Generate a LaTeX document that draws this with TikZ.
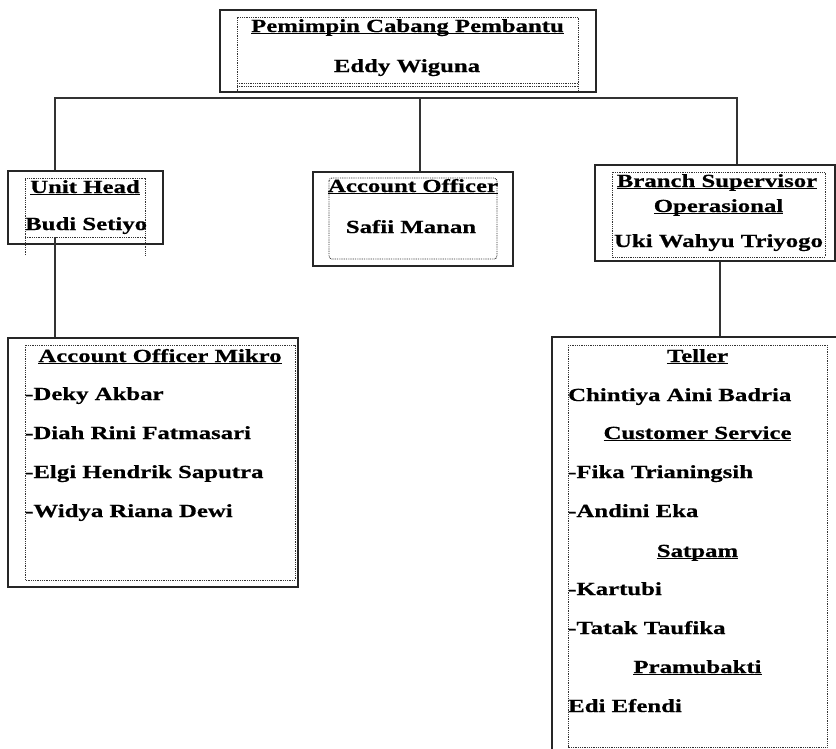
\documentclass[tikz,border=0pt]{standalone}
\usepackage{fontspec}
\setmainfont{Liberation Serif}[FakeStretch=1.34,FakeBold=0.6]
\newcommand\myul[1]{\setbox0=\hbox{#1}\rlap{\rule[-2.4pt]{\wd0}{1.4pt}}\box0}
\begin{document}
\begin{tikzpicture}[x=1pt,y=-1pt,
  outerbox/.style={draw=black!85,line width=1.3pt,inner sep=0pt,rectangle},
  innerdot/.style={draw=black!80,line width=0.9pt,dash pattern=on 0.9pt off 0.9pt},
  conn/.style={draw=black!80,line width=1.5pt},
  lbl/.style={inner sep=0pt,anchor=base,font=\fontsize{18.5}{20}\selectfont\bfseries},
  lbll/.style={lbl,anchor=base west}]
\useasboundingbox (0,0) rectangle (836,748);
\clip (0,0) rectangle (836,748);
% outer boxes
\node[outerbox,minimum width=376pt,minimum height=82pt] (top) at (408,51) {};
\node[outerbox,minimum width=155pt,minimum height=73pt] (uh) at (85.5,207.5) {};
\node[outerbox,minimum width=200pt,minimum height=94pt] (ao) at (413,219) {};
\node[outerbox,minimum width=240pt,minimum height=96pt] (bs) at (715,213) {};
\node[outerbox,minimum width=290pt,minimum height=249pt] (aom) at (153,462.5) {};
\node[outerbox,minimum width=298pt,minimum height=433pt] (tl) at (701,553.5) {};
% inner dotted frames
\draw[innerdot] (237,93) -- (237,17) -- (578,17) -- (578,93);
\draw[innerdot] (237,83) -- (578,83);
\draw[innerdot] (237,86) -- (578,86);
\draw[innerdot] (25,255) -- (25,178) -- (145,178) -- (145,255);
\draw[innerdot] (25,237) -- (145,237);
\draw[innerdot,rounded corners=3pt] (329,178) rectangle (497,259);
\draw[innerdot] (612,172) rectangle (825,257);
\draw[innerdot] (25,345) rectangle (295,580);
\draw[innerdot] (568,345) rectangle (827,747);
% connectors
\coordinate (b1) at (55,98);
\coordinate (b2) at (420,98);
\coordinate (b3) at (737,98);
\draw[conn] (b1 |- uh.north) -- (b1) -- (b3) -- (b3 |- bs.north);
\draw[conn] (b2) -- (b2 |- ao.north);
\coordinate (d1) at (55,237);
\draw[conn] (d1) -- (d1 |- aom.north);
\coordinate (d2) at (720,0);
\draw[conn] (d2 |- bs.south) -- (d2 |- tl.north);
% texts
\node[lbl] (t1) at (407.5,32) {\myul{Pemimpin Cabang Pembantu}};
\node[lbl] (t2) at (407,72) {Eddy Wiguna};
\node[lbl] (u1) at (85,193) {\myul{Unit Head}};
\node[lbll] (u2) at (25,230) {Budi Setiyo};
\node[lbl] (a1) at (413,192) {\myul{Account Officer}};
\node[lbl] (a2) at (411,233) {Safii Manan};
\node[lbl] (s1) at (717,187) {\myul{Branch Supervisor}};
\node[lbl] (s2) at (718.5,212) {\myul{Operasional}};
\node[lbl] (s3) at (718.5,247) {Uki Wahyu Triyogo};
\node[lbl] (m0) at (160,362) {\myul{Account Officer Mikro}};
\node[lbll] (m1) at (25,400) {-Deky Akbar};
\node[lbll] (m2) at (25,439) {-Diah Rini Fatmasari};
\node[lbll] (m3) at (25,478) {-Elgi Hendrik Saputra};
\node[lbll] (m4) at (25,517) {-Widya Riana Dewi};
\node[lbl] (r0) at (697.5,362) {\myul{Teller}};
\node[lbll] (r1) at (568,401) {Chintiya Aini Badria};
\node[lbl] (r2) at (697.5,439) {\myul{Customer Service}};
\node[lbll] (r3) at (568,478) {-Fika Trianingsih};
\node[lbll] (r4) at (568,517) {-Andini Eka};
\node[lbl] (r5) at (697.5,557) {\myul{Satpam}};
\node[lbll] (r6) at (568,595) {-Kartubi};
\node[lbll] (r7) at (568,634) {-Tatak Taufika};
\node[lbl] (r8) at (697.5,673) {\myul{Pramubakti}};
\node[lbll] (r9) at (568,712) {Edi Efendi};
\end{tikzpicture}
\end{document}
